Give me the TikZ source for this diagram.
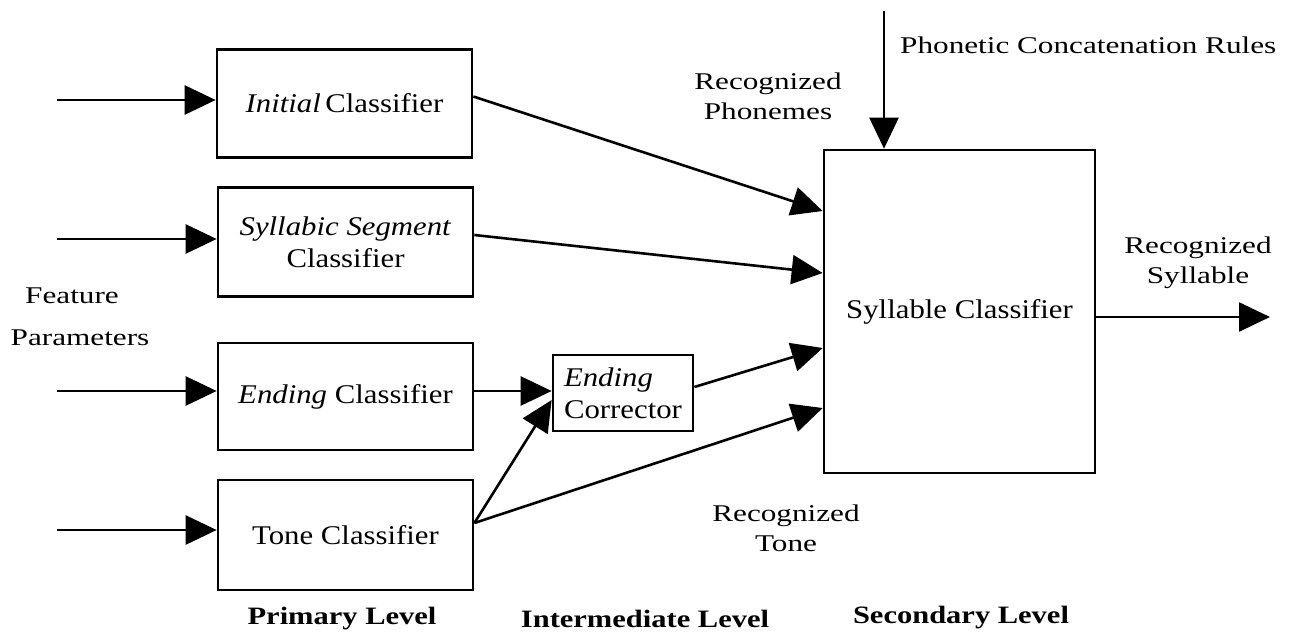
\documentclass[tikz,border=0pt]{standalone}
\usepackage{fontspec}
\setmainfont{Liberation Serif}
\newfontfamily\boxfont[FakeStretch=1.14]{Liberation Serif}
\newfontfamily\lblfont[FakeStretch=1.3]{Liberation Serif}
\newfontfamily\lvlfont[FakeStretch=1.22]{Liberation Serif}
\usetikzlibrary{arrows.meta}
\tikzset{
  box/.style={draw, line width=2.7pt, inner sep=0pt, align=center,
              font=\boxfont\fontsize{27}{32}\selectfont},
  arr/.style={line width=2.6pt, -{Triangle[length=31pt,width=29pt]}},
  lbl/.style={inner sep=0pt, align=center, font=\lblfont\fontsize{24}{30}\selectfont},
  lvl/.style={inner sep=0pt, font=\lvlfont\fontsize{25}{30}\selectfont\bfseries}
}
\begin{document}
\begin{tikzpicture}[x=1pt,y=-1pt]
\useasboundingbox (0,0) rectangle (1293,643);

% primary level classifiers
\node[box, minimum width=255pt, minimum height=108pt] (init) at (344.5,103.5) {\textit{Initial}\,Classifier};
\node[box, minimum width=255pt, minimum height=109pt] (syl) at (345.5,242) {\textit{Syllabic Segment}\\Classifier};
\node[box, minimum width=255pt, minimum height=107pt] (endc) at (345.5,396.5) {\textit{Ending} Classifier};
\node[box, minimum width=255pt, minimum height=110pt] (tone) at (345.5,535) {Tone Classifier};

% intermediate level
\node[box, minimum width=140pt, minimum height=76pt, align=left] (corr) at (623,393) {\textit{Ending}\\Corrector};

% secondary level
\node[box, minimum width=271pt, minimum height=323pt] (sc) at (959.5,311.5) {Syllable Classifier};

% feature parameter inputs
\coordinate (in1) at (57,100);
\coordinate (in2) at (57,239);
\coordinate (in3) at (57,391);
\coordinate (in4) at (57,530);
\draw[arr] (in1) -- (in1 -| init.west);
\draw[arr] (in2) -- (in2 -| syl.west);
\draw[arr] (in3) -- (in3 -| endc.west);
\draw[arr] (in4) -- (in4 -| tone.west);

% classifier outputs
\draw[arr] ([yshift=7pt]init.east) -- ([yshift=100.5pt]sc.west);
\draw[arr] ([yshift=7pt]syl.east) -- ([yshift=38.5pt]sc.west);
\draw[arr] ([yshift=5.5pt]endc.east) -- ([yshift=2pt]corr.west);
\draw[arr] ([yshift=12pt]tone.east) -- ([yshift=-7pt]corr.west);
\draw[arr] ([yshift=12pt]tone.east) -- ([yshift=-96.5pt]sc.west);
\draw[arr] ([yshift=6pt]corr.east) -- ([yshift=-36.5pt]sc.west);

% rules input and final output
\coordinate (rules) at (884,11);
\coordinate (out) at (1270,317);
\draw[arr] (rules) -- (rules |- sc.north);
\draw[arr] (out -| sc.east) -- (out);

% labels
\node[lbl] (feat) at (72,296) {Feature};
\node[lbl] (param) at (80,338) {Parameters};
\node[lbl, anchor=west] (rulestxt) at (900,45) {Phonetic Concatenation Rules};
\node[lbl] (phon) at (768,96) {Recognized\\Phonemes};
\node[lbl] (sylout) at (1198,263) {Recognized\\Syllable};
\node[lbl] (tonetxt) at (786,528) {Recognized\\Tone};

\node[lvl] (prim) at (342,619) {Primary Level};
\node[lvl] (inter) at (645,619) {Intermediate Level};
\node[lvl] (sec) at (961,618) {Secondary Level};
\end{tikzpicture}
\end{document}
